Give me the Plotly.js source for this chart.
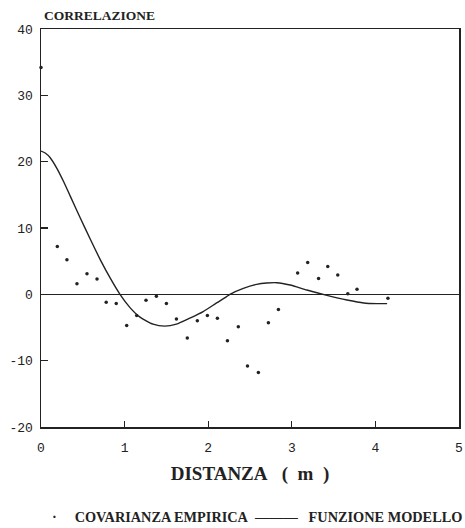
<!DOCTYPE html>
<html>
<head>
<meta charset="utf-8">
<script src="https://cdn.plot.ly/plotly-3.0.1.min.js"></script>
<style>html,body{margin:0;padding:0;background:#fff;}#chart{width:465px;height:528px;}</style>
</head>
<body>
<div id="chart"></div>
<script>
// Empirical covariance points (distance in m, value)
const empX = [0, 0.195, 0.31, 0.43, 0.55, 0.67, 0.78, 0.90, 1.025, 1.145, 1.256, 1.38, 1.50, 1.62, 1.75, 1.87, 1.99, 2.11, 2.23, 2.36, 2.47, 2.60, 2.72, 2.84, 3.07, 3.19, 3.32, 3.43, 3.55, 3.67, 3.78, 4.15];
const empY = [34.2, 7.2, 5.2, 1.6, 3.1, 2.3, -1.2, -1.4, -4.7, -3.2, -0.9, -0.3, -1.4, -3.7, -6.6, -4.0, -3.2, -3.6, -7.0, -4.9, -10.8, -11.8, -4.3, -2.3, 3.2, 4.8, 2.4, 4.2, 2.9, 0.1, 0.75, -0.6];

// Model function curve
const modX = [0, 0.05, 0.11, 0.19, 0.27, 0.35, 0.47, 0.59, 0.71, 0.83, 0.945, 1.065, 1.18, 1.34, 1.48, 1.62, 1.78, 1.94, 2.10, 2.22, 2.26, 2.42, 2.58, 2.70, 2.82, 2.98, 3.18, 3.42, 3.66, 3.86, 4.02, 4.14];
const modY = [21.6, 21.3, 20.6, 19.0, 17.0, 14.8, 11.5, 8.3, 5.2, 2.4, 0.0, -2.0, -3.4, -4.5, -4.8, -4.5, -3.6, -2.6, -1.3, -0.35, 0, 0.9, 1.5, 1.7, 1.75, 1.4, 0.65, -0.15, -0.85, -1.3, -1.4, -1.4];

const xTicks = [0, 1, 2, 3, 4, 5];
const yTicks = [-20, -10, 0, 10, 20, 30, 40];

const legendNames = ['COVARIANZA EMPIRICA', 'FUNZIONE MODELLO'];

const ink = '#222';
const serif = 'Liberation Serif, DejaVu Serif, serif';
const mono = 'Liberation Mono, DejaVu Sans Mono, monospace';

const traces = [
  {x: empX, y: empY, type: 'scatter', mode: 'markers', name: legendNames[0],
   marker: {size: 3.5, color: ink}, cliponaxis: false},
  {x: modX, y: modY, type: 'scatter', mode: 'lines', name: legendNames[1],
   line: {color: ink, width: 1.4, shape: 'spline', smoothing: 0.6}}
];

const legFont = {family: serif, size: 14.3, color: ink, weight: 'bold'};

const layout = {
  width: 465, height: 528,
  margin: {l: 41, r: 6, t: 29, b: 101},
  paper_bgcolor: '#fff', plot_bgcolor: '#fff',
  showlegend: false,
  xaxis: {range: [0, 5], tickvals: xTicks, ticktext: xTicks.map(String),
          showgrid: false, zeroline: false, showline: true, mirror: true,
          linecolor: ink, linewidth: 1.5, ticks: 'inside', ticklen: 6, tickcolor: ink, tickwidth: 1.2,
          ticklabelstandoff: 8,
          tickfont: {family: mono, size: 13, color: ink},
          title: {text: 'DISTANZA\u00A0\u00A0\u00A0(\u00A0\u00A0m\u00A0\u00A0)', standoff: 11,
                  font: {family: serif, size: 19, color: ink, weight: 'bold'}}},
  yaxis: {range: [-20, 40], tickvals: yTicks, ticktext: yTicks.map(String),
          showgrid: false, zeroline: true, zerolinecolor: ink, zerolinewidth: 1.6,
          showline: true, mirror: true, linecolor: ink, linewidth: 1.5,
          ticks: 'inside', ticklen: 7, tickcolor: ink, tickwidth: 1.2,
          ticklabelstandoff: 4,
          tickfont: {family: mono, size: 13, color: ink}},
  annotations: [
    {text: 'CORRELAZIONE', xref: 'paper', yref: 'paper', x: 0.003, y: 1.0, xanchor: 'left', yanchor: 'bottom',
     yshift: 4, showarrow: false, font: {family: serif, size: 13.5, color: ink, weight: 'bold'}},
    {text: '·\u00A0\u00A0\u00A0\u00A0\u00A0' + legendNames[0], xref: 'paper', yref: 'paper', x: 0.022, y: -0.226,
     xanchor: 'left', yanchor: 'middle', showarrow: false, font: legFont},
    {text: '———\u00A0\u00A0\u00A0' + legendNames[1], xref: 'paper', yref: 'paper', x: 0.505, y: -0.226,
     xanchor: 'left', yanchor: 'middle', showarrow: false, font: legFont}
  ]
};

Plotly.newPlot('chart', traces, layout, {staticPlot: true, displayModeBar: false});
</script>
</body>
</html>
